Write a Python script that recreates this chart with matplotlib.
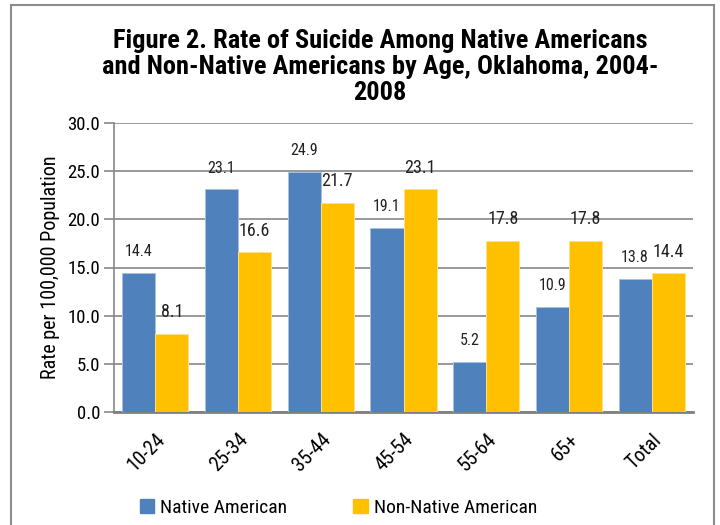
import numpy as np
import matplotlib.pyplot as plt
from matplotlib.patches import Rectangle, Patch

plt.rcParams['font.family'] = ['Roboto Condensed', 'DejaVu Sans']

# data
ages = ["10-24", "25-34", "35-44", "45-54", "55-64", "65+", "Total"]
native = [14.4, 23.1, 24.9, 19.1, 5.2, 10.9, 13.8]
non_native = [8.1, 16.6, 21.7, 23.1, 17.8, 17.8, 14.4]
yticks = [0, 5, 10, 15, 20, 25, 30]

blue = '#4F81BD'
gold = '#FFC000'
grid_c = '#878787'

fig = plt.figure(figsize=(7.2, 5.25), dpi=100)
ax = fig.add_axes([114/720, 1-412/525, (693-114)/720, (412-123)/525])

# outer chart border
fig.patches.append(Rectangle((11/720, -0.1), (714-11)/720, 1.1-5/525,
                             transform=fig.transFigure, fill=False,
                             edgecolor='#8C8C8C', linewidth=1.5))

x = np.arange(len(ages))
w = 0.4
b1 = ax.bar(x - w/2, native, w, color=blue, edgecolor='#A9C0DE', linewidth=0.7, zorder=3)
b2 = ax.bar(x + w/2, non_native, w, color=gold, edgecolor='#FFE08A', linewidth=0.7, zorder=3)

for rect, v in zip(b1, native):
    ax.annotate("%.1f" % v, (rect.get_x() + rect.get_width()/2, v),
                xytext=(0, 10), textcoords='offset points',
                ha='center', va='bottom', fontsize=11.5, color='#222222')
for rect, v in zip(b2, non_native):
    ax.annotate("%.1f" % v, (rect.get_x() + rect.get_width()/2, v),
                xytext=(0, 9), textcoords='offset points',
                ha='center', va='bottom', fontsize=13, color='#222222')

ax.set_xlim(-0.5, len(ages) - 0.5)
ax.set_ylim(0, 30)
ax.set_yticks(yticks)
ax.set_yticklabels(["%.1f" % t for t in yticks], fontsize=13.5)
ax.set_xticks(x)
ax.set_xticklabels(ages, rotation=45, ha='right', rotation_mode='anchor', fontsize=14.5)
ax.tick_params(axis='x', length=0, pad=13)
ax.tick_params(axis='y', length=7, color=grid_c, width=1.2, pad=3)
ax.grid(axis='y', color=grid_c, linewidth=1.2, zorder=0)
ax.set_axisbelow(True)
for s in ['top', 'right']:
    ax.spines[s].set_visible(False)
ax.spines['left'].set_color(grid_c)
ax.spines['left'].set_linewidth(1.2)
ax.spines['bottom'].set_color('#808080')
ax.spines['bottom'].set_linewidth(2)

ax.set_ylabel("Rate per 100,000 Population", fontsize=14.5, labelpad=5)

fig.text(380/720, 1 - 67/525,
         "Figure 2. Rate of Suicide Among Native Americans\nand Non-Native Americans by Age, Oklahoma, 2004-\n2008",
         ha='center', va='center', fontsize=19, fontweight='bold', linespacing=1.1)

handles = [Patch(color=blue, label="Native American"),
           Patch(color=gold, label="Non-Native American")]
fig.legend(handles=handles, loc='center left', bbox_to_anchor=(122/720, 1 - 508/525),
           ncol=2, frameon=False, fontsize=14, handlelength=0.75, handleheight=0.75,
           handletextpad=0.3, columnspacing=3.4)

fig.savefig("out.png", dpi=100)
